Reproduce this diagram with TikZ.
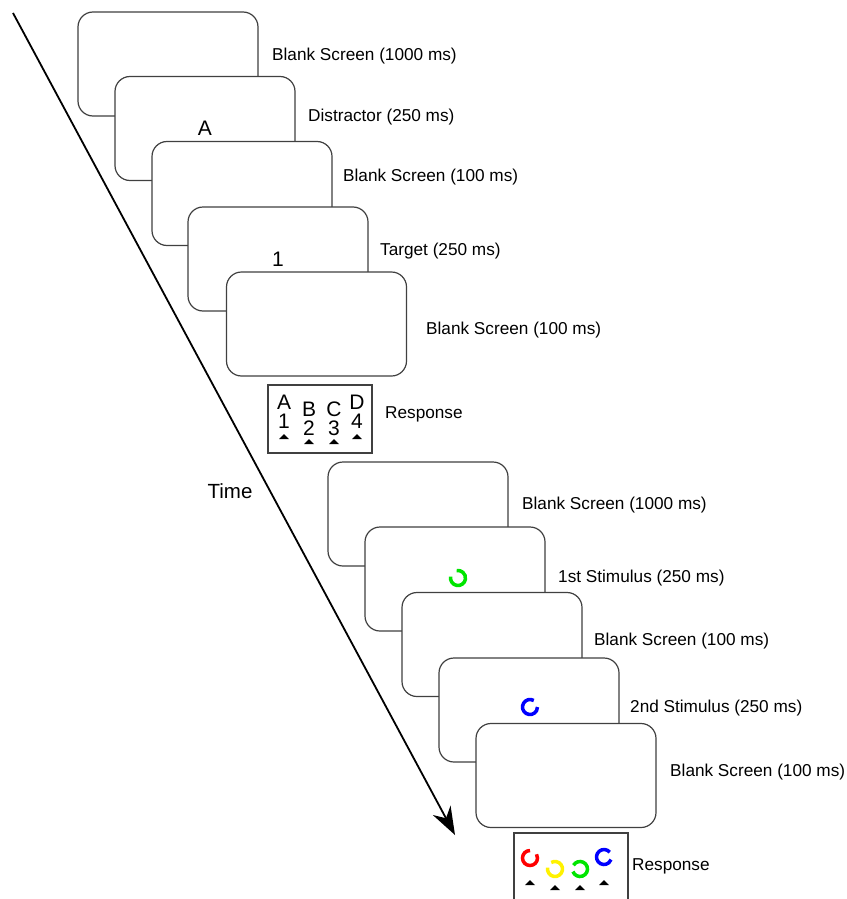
\documentclass[tikz,border=0pt]{standalone}
\usepackage{fontspec}
\setmainfont{Liberation Sans}
\usetikzlibrary{arrows.meta}
\begin{document}
\begin{tikzpicture}[x=1pt,y=-1pt,
  screen/.style={draw=black!75,fill=white,line width=1.2pt,rounded corners=15pt,minimum width=180pt,minimum height=104pt,inner sep=0pt},
  lbl/.style={anchor=west,inner sep=0pt,font=\fontsize{17.2}{20}\selectfont},
  big/.style={inner sep=0pt,font=\fontsize{21}{24}\selectfont},
  respbox/.style={draw=black!75,line width=1.2pt,fill=white},
  tri/.style={fill=black,draw=none},
  ring/.style={line width=3.5pt}]
\clip (0,0) rectangle (846,899);
\fill[white] (0,0) rectangle (846,899);
% top group
\node[screen] (s1) at (168,64) {};
\node[lbl] (l1) at (272,56.5) {Blank Screen (1000 ms)};
\node[screen] (s2) at (205,128.5) {};
\node[big] (tA) at (s2.center) {A};
\node[lbl] (l2) at (308,117.5) {Distractor (250 ms)};
\node[screen] (s3) at (242,193.5) {};
\node[lbl] (l3) at (343,177.5) {Blank Screen (100 ms)};
\node[screen] (s4) at (278,259) {};
\node[big] (t1) at (s4.center) {1};
\node[lbl] (l4) at (380,251.5) {Target (250 ms)};
\node[screen] (s5) at (316.5,324) {};
\node[lbl] (l5) at (426,330.5) {Blank Screen (100 ms)};
% response 1
\node[respbox,minimum width=104pt,minimum height=68pt,inner sep=0pt] (r1) at (320,419) {};
\node[big] (rA) at (284,402) {A};
\node[big] (r1n) at (284,421) {1};
\node[big] (rB) at (309,409) {B};
\node[big] (r2n) at (309,428) {2};
\node[big] (rC) at (334,409) {C};
\node[big] (r3n) at (334,428) {3};
\node[big] (rD) at (357,402) {D};
\node[big] (r4n) at (357,421) {4};
\fill[tri] (279,439) -- (284,434) -- (289,439) -- cycle;
\fill[tri] (304,444) -- (309,439) -- (314,444) -- cycle;
\fill[tri] (329,444) -- (334,439) -- (339,444) -- cycle;
\fill[tri] (352,439) -- (357,434) -- (362,439) -- cycle;
\node[lbl] (lr1) at (385,414.5) {Response};
% time arrow
\coordinate (ta) at (13,13);
\coordinate (tb) at (455,835);
\draw[line width=1.8pt,-{Stealth[length=28pt,width=20pt,inset=9pt]}] (ta) -- (tb);
\node[inner sep=0pt,font=\fontsize{20.5}{24}\selectfont] (time) at (230,491) {Time};
% bottom group
\node[screen] (s6) at (418,514) {};
\node[lbl] (l6) at (522,505.5) {Blank Screen (1000 ms)};
\node[screen] (s7) at (455,579) {};
\draw[ring,green!90!black] (458,578) ++(-170:7.5) arc[start angle=-170,end angle=-460,radius=7.5];
\node[lbl] (l7) at (558,578.5) {1st Stimulus (250 ms)};
\node[screen] (s8) at (492,644.5) {};
\node[lbl] (l8) at (594,641.5) {Blank Screen (100 ms)};
\node[screen] (s9) at (529,710) {};
\draw[ring,blue] (530,707) ++(-60:7.5) arc[start angle=-60,end angle=-360,radius=7.5];
\node[lbl] (l9) at (630,708.5) {2nd Stimulus (250 ms)};
\node[screen] (s10) at (566,775.5) {};
\node[lbl] (l10) at (670,772.5) {Blank Screen (100 ms)};
% response 2
\node[respbox,minimum width=114pt,minimum height=80pt,inner sep=0pt] (r2) at (571,873) {};
\draw[ring,red] (530,858) ++(-90:7.5) arc[start angle=-90,end angle=-390,radius=7.5];
\draw[ring,yellow] (555,869) ++(-170:7.5) arc[start angle=-170,end angle=-480,radius=7.5];
\draw[ring,green!90!black] (580,869) ++(-200:7.5) arc[start angle=-200,end angle=-510,radius=7.5];
\draw[ring,blue] (604,857) ++(-40:7.5) arc[start angle=-40,end angle=-340,radius=7.5];
\fill[tri] (525,885) -- (530,880) -- (535,885) -- cycle;
\fill[tri] (550,890) -- (555,885) -- (560,890) -- cycle;
\fill[tri] (575,890) -- (580,885) -- (585,890) -- cycle;
\fill[tri] (599,885) -- (604,880) -- (609,885) -- cycle;
\node[lbl] (lr2) at (632,866.5) {Response};
\end{tikzpicture}
\end{document}
